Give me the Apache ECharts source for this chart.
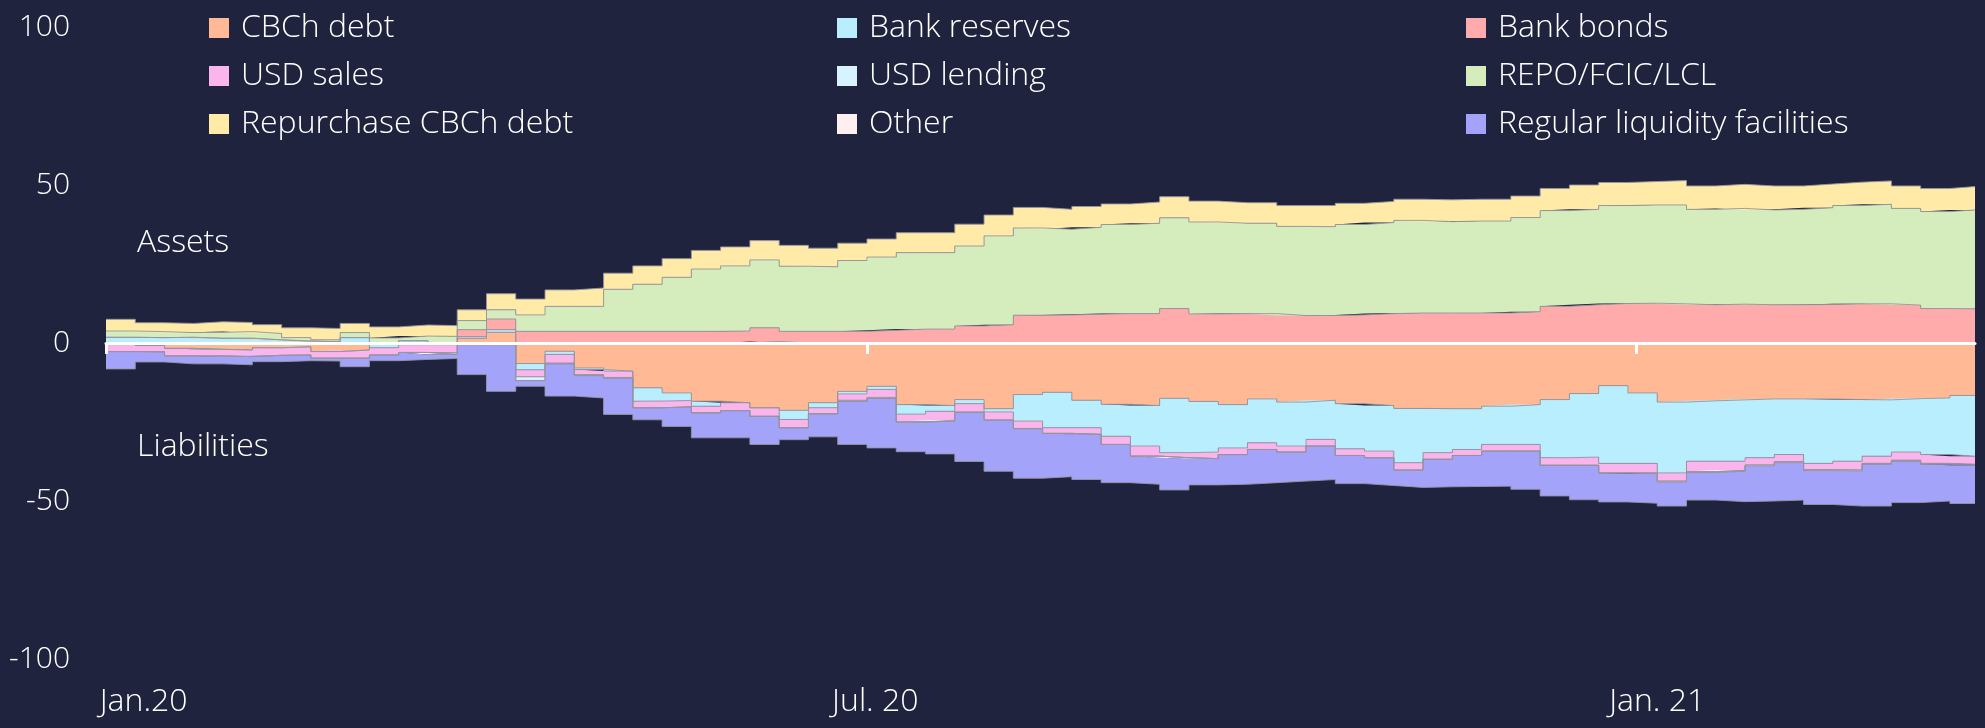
<!DOCTYPE html>
<html>
<head>
<meta charset="utf-8">
<script src="https://cdn.jsdelivr.net/npm/echarts@6/dist/echarts.min.js"></script>
<style>
  html, body { margin: 0; padding: 0; background: #1f233e; }
  #chart { width: 1985px; height: 728px; }
</style>
</head>
<body>
<div id="chart"></div>
<script>
// weekly observations, cumulative change since Jan 2020
const dates = [
  '2020-01-01','2020-01-08','2020-01-15','2020-01-22','2020-01-29','2020-02-05','2020-02-12','2020-02-19','2020-02-26',
  '2020-03-04','2020-03-11','2020-03-18','2020-03-25','2020-04-01','2020-04-08','2020-04-15','2020-04-22','2020-04-29',
  '2020-05-06','2020-05-13','2020-05-20','2020-05-27','2020-06-03','2020-06-10','2020-06-17','2020-06-24','2020-07-01',
  '2020-07-08','2020-07-15','2020-07-22','2020-07-29','2020-08-05','2020-08-12','2020-08-19','2020-08-26','2020-09-02',
  '2020-09-09','2020-09-16','2020-09-23','2020-09-30','2020-10-07','2020-10-14','2020-10-21','2020-10-28','2020-11-04',
  '2020-11-11','2020-11-18','2020-11-25','2020-12-02','2020-12-09','2020-12-16','2020-12-23','2020-12-30','2021-01-06',
  '2021-01-13','2021-01-20','2021-01-27','2021-02-03','2021-02-10','2021-02-17','2021-02-24','2021-03-03','2021-03-10',
  '2021-03-17','2021-03-23'
]

const cbchDebt = [0, -0.8, -1.7, -2.0, -2.2, -1.5, -1.2, -2.7, -2.2, -0.5, -0.5, -0.5, 1.5, 3.4, -6.5, -2.6, -7.9, -8.9,
  -14.2, -15.8, -18.4, -18.9, -20.5, -21.3, -18.9, -15.3, -13.7, -19.5, -19.8, -17.9, -20.8, -16.3, -15.6, -18.1, -19.4, -19.8,
  -17.5, -18.5, -19.5, -17.7, -18.7, -18.1, -19.2, -19.8, -20.7, -20.8, -20.8, -20.0, -19.5, -17.9, -16.0, -13.5, -15.8, -18.7,
  -18.3, -18.0, -17.7, -17.7, -17.7, -17.9, -18.0, -17.6, -17.4, -16.6, -16.6]
const bankReserves = [1.8, 1.7, 1.8, 1.5, 1.5, 1.0, 0.6, 0.4, 1.7, -1.0, 0.7, 0, 0.5, 0.8, -2.0, -1.0, -0.5, 0,
  -4.2, -2.4, -1.6, 0, 0.5, -2.9, -1.6, -0.8, -1.0, -3.0, -1.8, -1.3, -1.0, -8.4, -11.2, -8.7, -10.1, -12.8,
  -17.2, -16.0, -13.7, -13.9, -13.9, -12.4, -14.3, -14.4, -17.2, -13.9, -12.9, -12.1, -12.6, -18.4, -20.1, -24.6, -22.3, -22.4,
  -19.1, -19.4, -18.6, -17.6, -20.4, -19.5, -17.8, -16.9, -17.9, -19.2, -19.2]
const bankBonds = [0, 0, 0, 0, 0, 0, 0, 0, 0, 0, 0, 0, 2.2, 3.4, 3.7, 3.7, 3.7, 3.7,
  3.7, 3.7, 3.7, 3.8, 4.3, 3.7, 3.7, 3.7, 4.0, 4.4, 4.4, 5.4, 5.8, 8.8, 8.9, 9.1, 9.3, 9.3,
  10.9, 9.2, 9.3, 9.3, 8.7, 8.7, 8.9, 9.3, 9.5, 9.5, 9.5, 9.5, 9.9, 11.6, 12.1, 12.5, 12.6, 12.4,
  12.1, 12.3, 12.1, 12.1, 12.2, 12.4, 12.4, 12.0, 10.9, 10.8, 10.8]
const usdSales = [-2.7, -2.0, -2.4, -2.1, -2.1, -2.4, -2.6, -2.1, -2.6, -2.3, -2.5, -2.6, -0.5, -0.5, -2.2, -2.7, -1.6, -2.0,
  -2.1, -2.0, -2.1, -2.5, -2.7, -2.6, -1.9, -2.0, -2.5, -2.5, -2.8, -2.7, -2.6, -2.4, -1.8, -2.1, -2.6, -3.2,
  -1.6, -2.1, -2.1, -2.1, -1.9, -2.1, -2.1, -2.1, -2.3, -2.1, -1.9, -2.1, -2.1, -2.4, -2.6, -3.0, -3.0, -2.6,
  -3.3, -2.9, -2.3, -2.3, -2.0, -2.8, -2.3, -2.6, -2.8, -2.6, -2.6]
const usdLending = [0, 0, 0, 0, 0, 0, 0, 0, 0, 0, 0, -0.5, 0, 0, -1.2, -0.3, -0.3, -0.2,
  0, 0, 0, 0, 0, 0, 0, -0.3, -0.3, 0, -0.3, 0, 0, 0, 0, 0, 0, 0,
  0, 0, 0, 0, 0, 0, 0, 0, 0, 0, 0, 0, 0, 0, 0, 0, 0, 0,
  0, 0, 0, 0, 0, 0, 0, 0, 0, 0, 0]
const repoFcic = [2.0, 1.9, 1.5, 1.9, 2.1, 2.0, 1.1, 0.6, 1.6, 1.6, 1.5, 2.1, 2.9, 2.9, 5.2, 7.9, 7.9, 13.3,
  14.9, 17.1, 19.7, 20.6, 21.5, 20.6, 20.4, 22.4, 23.2, 24.2, 24.2, 25.3, 28.1, 27.6, 27.1, 27.5, 28.2, 28.6,
  28.7, 29.1, 28.6, 28.6, 28.2, 28.1, 28.6, 28.8, 29.3, 28.9, 29.1, 29.1, 29.8, 30.3, 30.2, 31.0, 31.1, 31.3,
  30.2, 30.3, 30.0, 30.2, 30.6, 31.1, 31.5, 30.6, 30.7, 31.3, 31.3]
const repurchase = [3.7, 2.8, 2.9, 3.3, 2.9, 2.8, 3.1, 3.6, 2.9, 3.5, 3.5, 3.4, 3.4, 5.1, 5.0, 5.2, 5.8, 5.1,
  5.8, 5.9, 5.9, 6.0, 6.1, 6.6, 5.9, 5.5, 5.7, 6.3, 6.3, 6.9, 6.6, 6.5, 6.3, 6.6, 6.5, 6.7,
  6.7, 6.6, 6.5, 6.5, 6.6, 6.7, 6.7, 6.7, 6.7, 6.9, 6.9, 6.9, 6.8, 7.0, 7.7, 7.3, 7.4, 7.7,
  7.4, 7.6, 7.6, 7.4, 7.5, 7.4, 7.4, 7.1, 7.3, 7.4, 7.4]
const other = [0, 0, 0, 0, 0, 0, 0, 0, 0, 0, 0, 0, 0, 0, 0, 0, 0, 0,
  0, 0, 0, 0, 0, 0, 0, 0, 0, 0, 0, 0, 0, 0, 0, 0, 0, 0,
  0, 0, 0, 0, 0, 0, 0, 0, 0, 0, 0, 0, 0, 0, 0, 0, -0.3, -0.3,
  -0.3, -0.3, -0.3, -0.3, -0.3, -0.3, -0.3, -0.3, -0.3, -0.3, -0.3]
const regularLiquidity = [-5.5, -3.2, -2.5, -2.5, -2.6, -2.0, -1.8, -0.9, -2.7, -1.8, -2.2, -1.3, -9.5, -14.8, -1.8, -10.2, -7.1, -11.5,
  -3.8, -6.2, -7.9, -8.6, -8.9, -3.8, -7.3, -13.7, -15.7, -9.4, -10.4, -15.6, -16.2, -15.7, -13.7, -14.3, -12.1, -8.9,
  -10.2, -8.3, -9.4, -10.5, -9.2, -10.6, -8.9, -8.8, -5.5, -8.7, -9.8, -11.1, -12.1, -9.7, -10.9, -9.2, -9.3, -7.6,
  -8.7, -9.6, -11.1, -11.8, -10.7, -11.1, -13.2, -13.1, -11.6, -12.1, -12.1]

const seriesNames = ['CBCh debt', 'Bank reserves', 'Bank bonds', 'USD sales', 'USD lending',
  'REPO/FCIC/LCL', 'Repurchase CBCh debt', 'Other', 'Regular liquidity facilities']
const seriesValues = [cbchDebt, bankReserves, bankBonds, usdSales, usdLending, repoFcic, repurchase, other, regularLiquidity]
const seriesColors = ['#ffb994', '#b9eefe', '#ffabab', '#fbb5ed', '#d7f4fe', '#d5edbd', '#ffeaa8', '#fff0f0', '#a3a3fa']

const yTicks = [-100, -50, 0, 50, 100]
// x ticks on the zero line, and where the month labels sit
const xTickDates = ['2020-01-01', '2020-07-01', '2021-01-01']
const xLabelDates = ['2020-01-10', '2020-07-03', '2021-01-06']
const xLabels = ['Jan.20', 'Jul. 20', 'Jan. 21']
const xStart = '2020-01-01'
const xEnd = '2021-03-23'

const font = "'Open Sans', sans-serif"
const textSize = 32
// local-time timestamp of a yyyy-mm-dd string
const ts = s => { const p = s.split('-').map(Number); return new Date(p[0], p[1] - 1, p[2]).getTime() }

let chart = echarts.init(document.getElementById('chart'))

// assets stack upward, liabilities downward: each item gets a part on each side it reaches
function makePart(i, side) {
  const vals = seriesValues[i].map(v => side === 'pos' ? Math.max(v, 0) : Math.min(v, 0))
  return {
    name: seriesNames[i],
    type: 'line',
    stack: side,
    step: 'end',
    xAxisIndex: 0,
    color: seriesColors[i],
    showSymbol: false,
    symbol: 'none',
    lineStyle: { color: 'rgba(150,150,160,0.9)', width: 1 },
    areaStyle: { color: seriesColors[i], opacity: 1 },
    emphasis: { disabled: true },
    data: dates.map((d, j) => [ts(d), vals[j]])
  }
}
const series = []
seriesNames.forEach((name, i) => {
  if (seriesValues[i].some(v => v > 0)) series.push(makePart(i, 'pos'))
})
seriesNames.forEach((name, i) => {
  if (seriesValues[i].some(v => v < 0)) series.push(makePart(i, 'neg'))
})

const legendBase = {
  orient: 'vertical',
  top: 12,
  padding: 0,
  icon: 'rect',
  itemWidth: 20,
  itemHeight: 20,
  itemGap: 16,
  itemStyle: { borderWidth: 0 },
  selectedMode: false,
  textStyle: { color: '#ffffff', fontSize: textSize, fontWeight: 300, fontFamily: font, lineHeight: 30, padding: [0, 0, 0, 7] }
}

const labelValues = xLabelDates.map(ts)

let option = {
  backgroundColor: '#1f233e',
  animation: false,
  grid: { left: 106, right: 10, top: 27, bottom: 69, containLabel: false },
  legend: [
    Object.assign({}, legendBase, { left: 209, data: [seriesNames[0], seriesNames[3], seriesNames[6]] }),
    Object.assign({}, legendBase, { left: 837, data: [seriesNames[1], seriesNames[4], seriesNames[7]] }),
    Object.assign({}, legendBase, { left: 1466, data: [seriesNames[2], seriesNames[5], seriesNames[8]] })
  ],
  xAxis: [
    {
      // the time scale the areas are drawn on
      type: 'time',
      min: ts(xStart),
      max: ts(xEnd),
      show: false,
      axisLine: { onZero: false }
    },
    {
      // zero line with ticks
      type: 'value',
      position: 'bottom',
      min: ts(xStart),
      max: ts(xEnd),
      z: 10,
      axisLine: { onZero: true, lineStyle: { color: '#ffffff', width: 3 } },
      axisTick: {
        show: true, length: 11, inside: false,
        customValues: xTickDates.map(ts),
        lineStyle: { color: '#ffffff', width: 3 }
      },
      axisLabel: { show: false },
      splitLine: { show: false }
    },
    {
      // labels along the bottom
      type: 'value',
      position: 'bottom',
      min: ts(xStart),
      max: ts(xEnd),
      axisLine: { show: false, onZero: false },
      axisTick: { show: false },
      splitLine: { show: false },
      axisLabel: {
        show: true,
        margin: 27,
        color: '#ffffff',
        fontSize: textSize,
        fontWeight: 300,
        fontFamily: font,
        customValues: labelValues,
        formatter: function (v) {
          const i = labelValues.indexOf(v)
          return i >= 0 ? xLabels[i] : ''
        }
      }
    }
  ],
  yAxis: {
    type: 'value',
    min: yTicks[0],
    max: yTicks[yTicks.length - 1],
    interval: 50,
    axisLine: { show: false },
    axisTick: { show: false },
    splitLine: { show: false },
    axisLabel: { color: '#ffffff', fontSize: 30, fontWeight: 300, fontFamily: font, margin: 36 }
  },
  graphic: [
    { type: 'text', x: 137, y: 243, style: { text: 'Assets', fill: '#ffffff', font: '300 ' + textSize + 'px ' + font, verticalAlign: 'middle' } },
    { type: 'text', x: 137, y: 447, style: { text: 'Liabilities', fill: '#ffffff', font: '300 ' + textSize + 'px ' + font, verticalAlign: 'middle' } }
  ],
  series: series
}

chart.setOption(option)
</script>
</body>
</html>
